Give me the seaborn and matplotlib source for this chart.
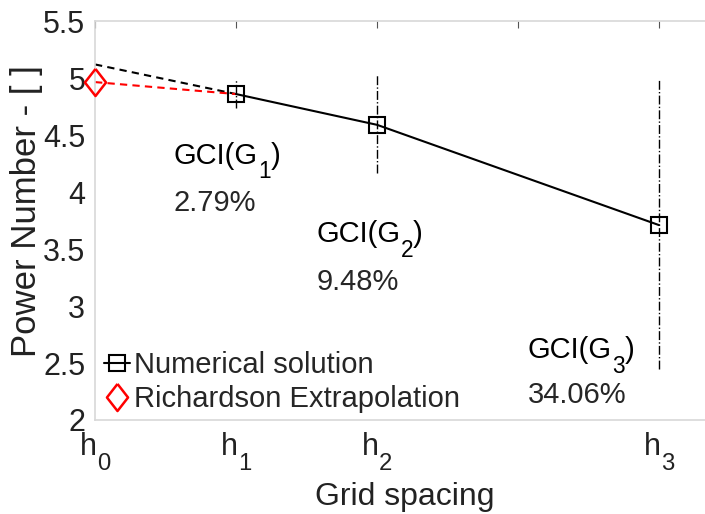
import matplotlib
matplotlib.use("Agg")
import matplotlib.pyplot as plt
import seaborn as sns
import pandas as pd
import numpy as np

# Data
x_pos = [1, 2, 4]                 # h1, h2, h3
power = [4.86, 4.59, 3.71]
err_low = [4.74, 4.17, 2.45]
err_high = [4.98, 5.04, 4.98]
rich_x = 0
rich_val = 4.965
trend_start = 5.12               # black dashed extrapolation at h0
tick_pos = [0, 1, 2, 3, 4]
tick_base = ["h", "h", "h", "", "h"]
tick_subs = ["0", "1", "2", "", "3"]
gci_subs = ["1", "2", "3"]
gci_values = ["2.79%", "9.48%", "34.06%"]
gci_x = [0.56, 1.57, 3.07]
gci_y = [4.25, 3.56, 2.54]
gci_y2 = [3.83, 3.14, 2.15]

sns.set_style("white")
plt.rcParams['font.family'] = ['Liberation Sans', 'DejaVu Sans']

FS = 21
TFS = 22
LFS = 23
DPI = 100
fig = plt.figure(figsize=(7.05, 5.14), dpi=DPI)
ax = fig.add_axes([0.1348, 0.1829, 0.88, 0.776])
renderer = fig.canvas.get_renderer()
px2pt = 72.0 / DPI

df = pd.DataFrame({"x": x_pos, "y": power})

# dashed extrapolation lines
ax.plot([rich_x, x_pos[0]], [trend_start, power[0]], ls=(0, (3.5, 2.5)), color="black", lw=1.5, zorder=2)
ax.plot([rich_x, x_pos[0]], [rich_val, power[0]], ls=(0, (3.5, 2.5)), color="red", lw=1.5, zorder=2)

# error bars
ax.vlines(x_pos, err_low, err_high, colors="black", linestyles="-.", lw=1.0, zorder=2)

sns.lineplot(data=df, x="x", y="y", ax=ax, color="black", lw=1.5, marker="s",
             markersize=11.5, markerfacecolor="none", markeredgecolor="black",
             markeredgewidth=1.5, label="Numerical solution", zorder=3)
diamond = [(0, 1), (0.78, 0), (0, -1), (-0.78, 0), (0, 1)]
ax.plot([rich_x], [rich_val], marker=diamond, ls="none", markersize=19.5, markerfacecolor="none",
        markeredgecolor="red", markeredgewidth=1.8, clip_on=False, zorder=4,
        label="Richardson Extrapolation")


def text_width_pt(s, fs):
    t = fig.text(0.5, 0.5, s, fontsize=fs)
    w = t.get_window_extent(renderer).width * px2pt
    t.remove()
    return w


def tex_like(parts, xy, xycoords, fs, color="black", center=False, dy=0.0, sub_scale=0.78, sub_drop=0.5):
    """Draw text parts [(string, is_sub)] in a row, MATLAB-like subscripts."""
    widths = [text_width_pt(s, fs * (sub_scale if is_sub else 1)) for s, is_sub in parts]
    total = sum(widths)
    x0 = -total / 2 if center else 0.0
    for (s, is_sub), w in zip(parts, widths):
        ax.annotate(s, xy=xy, xycoords=xycoords, xytext=(x0, dy - (sub_drop * fs if is_sub else 0)),
                    textcoords="offset points", fontsize=fs * (sub_scale if is_sub else 1),
                    ha="left", va="baseline", color=color, annotation_clip=False)
        x0 += w


for sub, val, gx, gy, gy2 in zip(gci_subs, gci_values, gci_x, gci_y, gci_y2):
    tex_like([("GCI(G", False), (sub, True), (")", False)], (gx, gy), "data", FS)
    ax.text(gx, gy2, val, fontsize=FS, ha="left", va="baseline")

ax.set_xlim(0, 4.4)
ax.set_ylim(2, 5.5)
ax.set_xticks(tick_pos)
ax.set_xticklabels([""] * len(tick_pos))
for tp, b, s in zip(tick_pos, tick_base, tick_subs):
    if b:
        tex_like([(b, False), (s, True)], (tp, 0), ax.get_xaxis_transform(), TFS,
                 color="#222222", center=True, dy=-35 * px2pt)
ax.set_yticks([2, 2.5, 3, 3.5, 4, 4.5, 5, 5.5])
ax.set_yticklabels(["2", "2.5", "3", "3.5", "4", "4.5", "5", "5.5"])
ax.tick_params(axis="both", direction="in", length=5, width=0.8, color="#555555",
               labelsize=TFS, labelcolor="#222222", top=True, right=False)
ax.tick_params(axis="y", pad=7)
for sp in ["left", "bottom", "top"]:
    ax.spines[sp].set_color("#d8d8d8")
    ax.spines[sp].set_linewidth(1.2)
ax.spines["right"].set_visible(False)

ax.set_xlabel("Grid spacing", fontsize=LFS, color="#222222")
ax.set_ylabel("Power Number - [ ]", fontsize=25, color="#222222")
ax.xaxis.set_label_coords(0.5, -0.155)
ax.yaxis.set_label_coords(-0.084, 0.524)

leg = ax.legend(loc="lower left", bbox_to_anchor=(0.0, -0.004), frameon=False, fontsize=FS,
                handlelength=0.9, handletextpad=0.12, borderaxespad=0.0, borderpad=0.3,
                labelspacing=0.2)

fig.savefig("out.png", dpi=DPI)
